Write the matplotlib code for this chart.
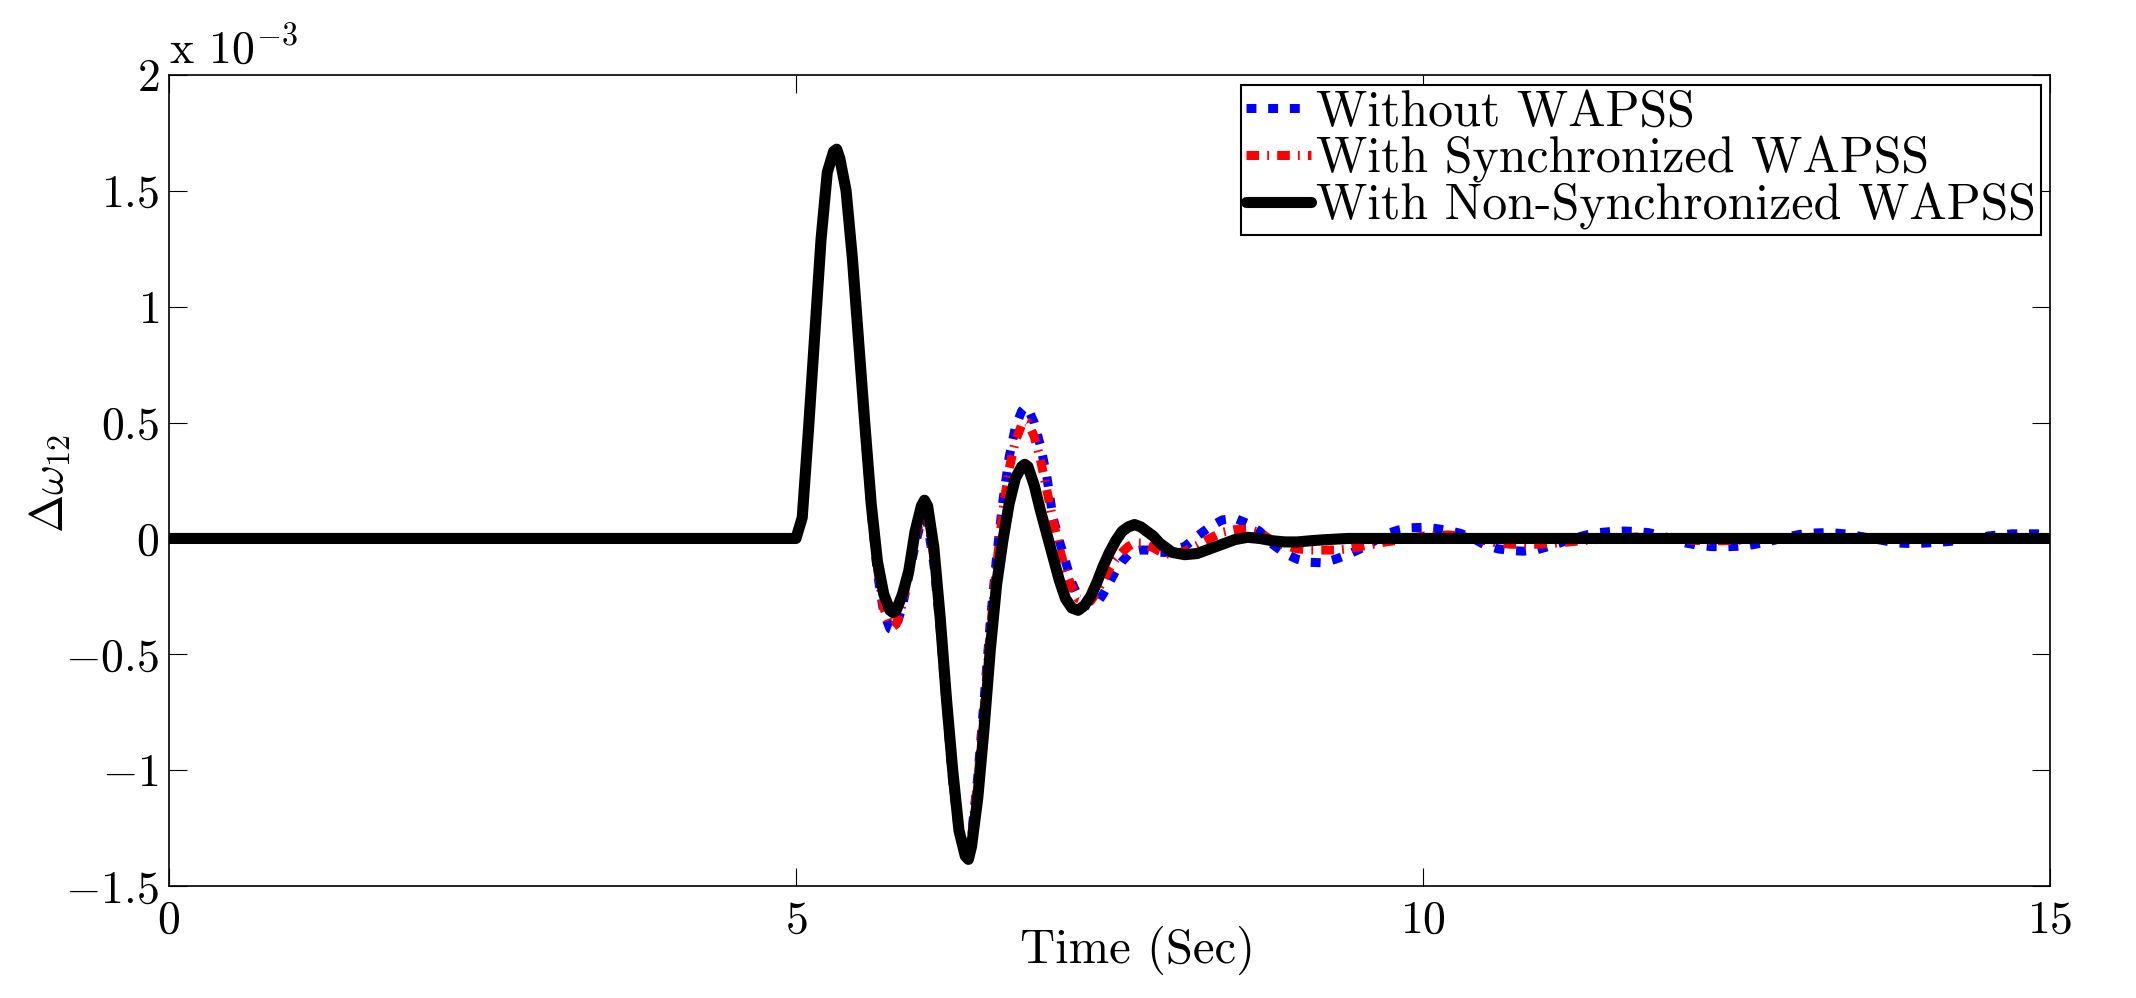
import matplotlib
matplotlib.use('Agg')
import matplotlib.pyplot as plt

# tiempos de muestreo (s)
t = [0.0,
     5.00, 5.05, 5.10, 5.15, 5.20, 5.25, 5.30, 5.325, 5.35, 5.40, 5.45,
     5.50, 5.55, 5.60, 5.65, 5.70, 5.75, 5.775, 5.80, 5.85, 5.90, 5.95,
     6.00, 6.025, 6.05, 6.10, 6.15, 6.20, 6.25, 6.30, 6.35, 6.375, 6.40, 6.45,
     6.50, 6.55, 6.60, 6.65, 6.70, 6.75, 6.80, 6.825, 6.85, 6.90, 6.95,
     7.00, 7.05, 7.10, 7.15, 7.20, 7.25, 7.30, 7.35, 7.40, 7.45,
     7.50, 7.55, 7.60, 7.65, 7.70, 7.75, 7.80, 7.85, 7.90, 7.95,
     8.00,
     8.1, 8.2, 8.3, 8.4, 8.5, 8.6, 8.7, 8.8, 8.9, 9.0,
     9.1, 9.2, 9.3, 9.4, 9.5, 9.6, 9.7, 9.8, 9.9, 10.0,
     10.1, 10.2, 10.3, 10.4, 10.5, 10.6, 10.7, 10.8, 10.9, 11.0,
     11.1, 11.2, 11.3, 11.4, 11.5, 11.6, 11.7, 11.8, 11.9, 12.0,
     12.1, 12.2, 12.3, 12.4, 12.5, 12.6, 12.7, 12.8, 12.9, 13.0,
     13.1, 13.2, 13.3, 13.4, 13.5, 13.6, 13.7, 13.8, 13.9, 14.0,
     14.1, 14.2, 14.3, 14.4, 14.5, 14.6, 14.7, 14.8, 14.9, 15.0]

# delta omega 12 (x 1e-3) sin WAPSS
sin_wapss = [0.0,
     0.00, 0.09, 0.47, 0.88, 1.29, 1.58, 1.67, 1.68, 1.64, 1.49, 1.20,
     0.84, 0.46, 0.12, -0.15, -0.32, -0.39, -0.395, -0.38, -0.29, -0.16, -0.03,
     0.08, 0.09, 0.06, -0.11, -0.39, -0.73, -1.05, -1.28, -1.36, -1.34, -1.28, -1.03,
     -0.70, -0.36, -0.08, 0.16, 0.35, 0.48, 0.55, 0.565, 0.56, 0.50, 0.40,
     0.27, 0.09, -0.01, -0.10, -0.19, -0.25, -0.28, -0.29, -0.28, -0.24,
     -0.19, -0.14, -0.10, -0.07, -0.055, -0.05, -0.05, -0.055, -0.06, -0.06,
     -0.05,
     -0.035, 0.01, 0.05, 0.08, 0.087, 0.065, 0.03, -0.025, -0.065, -0.09,
     -0.103, -0.105, -0.09, -0.07, -0.045, -0.015, 0.018, 0.036, 0.046, 0.048,
     0.043, 0.035, 0.022, 0.0, -0.03, -0.045, -0.052, -0.055, -0.05, -0.035,
     -0.018, 0.0, 0.015, 0.025, 0.03, 0.032, 0.03, 0.025, 0.012, -0.005,
     -0.02, -0.03, -0.035, -0.036, -0.034, -0.03, -0.02, -0.008, 0.006, 0.017,
     0.023, 0.025, 0.023, 0.018, 0.008, -0.002, -0.012, -0.02, -0.022, -0.02,
     -0.017, -0.013, -0.006, 0.002, 0.01, 0.016, 0.02, 0.02, 0.02, 0.018]

# con WAPSS sincronizado
sincronizado = [0.0,
     0.00, 0.09, 0.47, 0.88, 1.29, 1.58, 1.67, 1.68, 1.64, 1.49, 1.20,
     0.84, 0.47, 0.13, -0.13, -0.30, -0.37, -0.38, -0.37, -0.28, -0.14, 0.00,
     0.10, 0.115, 0.09, -0.08, -0.37, -0.72, -1.04, -1.27, -1.37, -1.36, -1.29, -1.05,
     -0.74, -0.40, -0.12, 0.12, 0.30, 0.42, 0.49, 0.505, 0.50, 0.44, 0.34,
     0.21, 0.08, -0.04, -0.14, -0.21, -0.26, -0.27, -0.27, -0.23, -0.18,
     -0.13, -0.09, -0.06, -0.035, -0.02, -0.02, -0.03, -0.04, -0.055, -0.065,
     -0.07,
     -0.055, -0.03, 0.0, 0.027, 0.038, 0.04, 0.025, -0.01, -0.03, -0.045,
     -0.05, -0.05, -0.05, -0.045, -0.035, -0.025, -0.015, -0.008, 0.002, 0.01,
     0.014, 0.015, 0.012, 0.0, -0.01, -0.02, -0.025, -0.025, -0.025, -0.022,
     -0.018, -0.013, -0.008, -0.004, 0.0, 0.004, 0.006, 0.005, 0.002, -0.002,
     -0.006, -0.009, -0.01, -0.01, -0.008, -0.005, -0.002, 0.0, 0.002, 0.004,
     0.005, 0.005, 0.004, 0.002, 0.0, -0.002, -0.003, -0.004, -0.004, -0.003,
     -0.002, 0.0, 0.001, 0.002, 0.003, 0.003, 0.003, 0.002, 0.001, 0.0]

# con WAPSS no sincronizado
no_sincronizado = [0.0,
     0.00, 0.09, 0.47, 0.88, 1.29, 1.58, 1.67, 1.68, 1.64, 1.50, 1.21,
     0.85, 0.49, 0.15, -0.10, -0.24, -0.31, -0.32, -0.31, -0.24, -0.14, 0.03,
     0.14, 0.165, 0.14, -0.04, -0.34, -0.69, -1.00, -1.26, -1.37, -1.385, -1.33, -1.12,
     -0.82, -0.48, -0.20, -0.01, 0.15, 0.26, 0.31, 0.32, 0.31, 0.23, 0.12,
     0.02, -0.08, -0.18, -0.26, -0.30, -0.31, -0.29, -0.25, -0.19, -0.12,
     -0.06, -0.01, 0.03, 0.05, 0.06, 0.05, 0.03, 0.01, -0.02, -0.04,
     -0.06,
     -0.07, -0.065, -0.045, -0.025, -0.005, 0.005, 0.0, -0.01, -0.015, -0.015,
     -0.01, -0.006, -0.003, 0.0, 0.0, 0.0, 0.0, 0.0, 0.0, 0.0,
     0.0, 0.0, 0.0, 0.0, 0.0, 0.0, 0.0, 0.0, 0.0, 0.0,
     0.0, 0.0, 0.0, 0.0, 0.0, 0.0, 0.0, 0.0, 0.0, 0.0,
     0.0, 0.0, 0.0, 0.0, 0.0, 0.0, 0.0, 0.0, 0.0, 0.0,
     0.0, 0.0, 0.0, 0.0, 0.0, 0.0, 0.0, 0.0, 0.0, 0.0,
     0.0, 0.0, 0.0, 0.0, 0.0, 0.0, 0.0, 0.0, 0.0, 0.0]

etiquetas = ['Without WAPSS', 'With Synchronized WAPSS', 'With Non-Synchronized WAPSS']
xticks = [0, 5, 10, 15]
yticks = [-1.5, -1, -0.5, 0, 0.5, 1, 1.5, 2]

plt.rcParams['font.family'] = 'cmr10'
plt.rcParams['mathtext.fontset'] = 'cm'
plt.rcParams['axes.unicode_minus'] = False

fs = 33
fig = plt.figure(figsize=(21.36, 9.98), dpi=100)
ax = fig.add_axes([0.0791, 0.1122, 0.8806, 0.8126])

ax.plot(t, sin_wapss, color='blue', lw=6.5, linestyle=(0, (1.1, 1.3)),
        dash_joinstyle='round', label=etiquetas[0])
ax.plot(t, sincronizado, color='red', lw=6.5, linestyle=(0, (1.4, 0.9, 0.2, 0.9)),
        dash_joinstyle='round', label=etiquetas[1])
ax.plot(t, no_sincronizado, color='black', lw=8, linestyle='-',
        solid_joinstyle='round', solid_capstyle='round', label=etiquetas[2])

ax.set_xlim(0, 15)
ax.set_ylim(-1.5, 2)
ax.set_xticks(xticks)
ax.set_xticklabels(['$%g$' % v for v in xticks])
ax.set_yticks(yticks)
ax.set_yticklabels(['$%g$' % v for v in yticks])
ax.tick_params(direction='in', length=13, width=0.8, top=True, right=True, labelsize=fs)
ax.tick_params(axis='x', pad=10)
ax.tick_params(axis='y', pad=7)
for s in ax.spines.values():
    s.set_linewidth(1.2)

# escala x 10^-3 estilo matlab
ax.text(0.0, 1.003, r'x 10$^{-3}$', transform=ax.transAxes, fontsize=fs, ha='left', va='bottom')

fig.text(50 / 2136, 1 - 483 / 998, r'$\Delta\omega_{12}$', rotation=90, fontsize=fs,
         ha='center', va='center')
fig.text(1138 / 2136, 1 - 950 / 998, 'Time (Sec)', fontsize=35, ha='center', va='center')

leg = ax.legend(loc='upper right', bbox_to_anchor=(2041 / 2136, 1 - 85 / 998),
                bbox_transform=fig.transFigure, fontsize=36, frameon=True, fancybox=False,
                framealpha=1, edgecolor='black', borderpad=0.1, labelspacing=0.0,
                handlelength=1.3, handletextpad=0.1, borderaxespad=0)
leg.get_frame().set_linewidth(1.5)

plt.savefig('out.png', dpi=100)
